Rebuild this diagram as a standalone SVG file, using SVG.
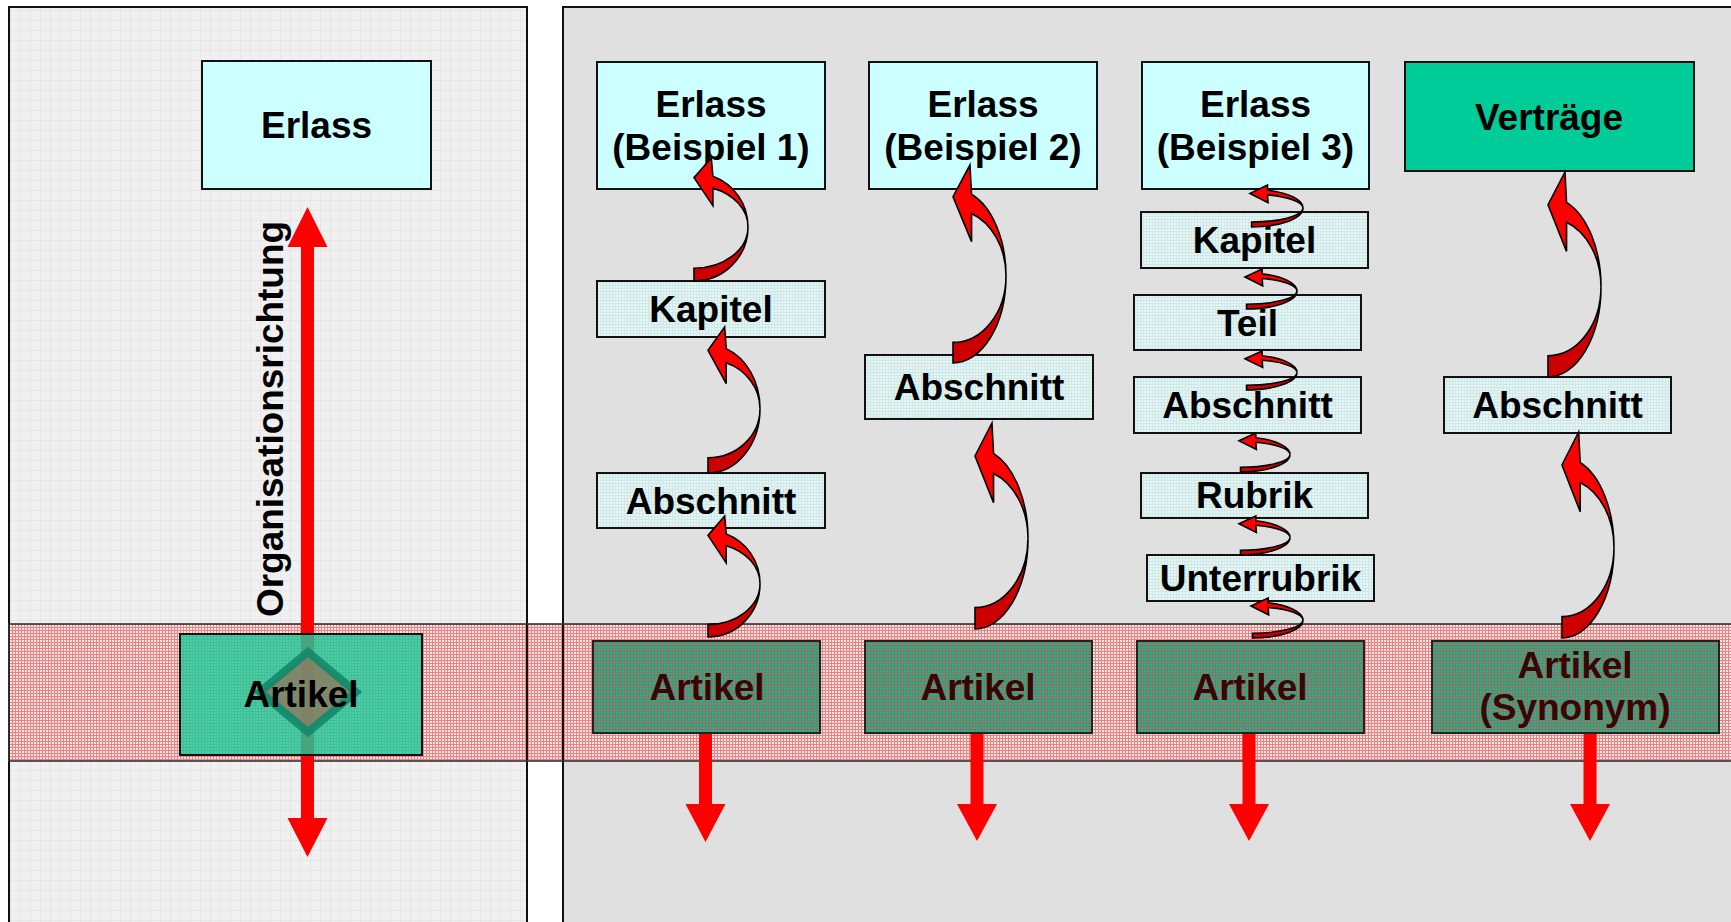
<svg xmlns="http://www.w3.org/2000/svg" xmlns:xlink="http://www.w3.org/1999/xlink" width="1731" height="922" viewBox="0 0 1731 922">
<style>
.t{font-family:"Liberation Sans",Arial,sans-serif;font-weight:bold;font-size:37px;text-anchor:middle;fill:#000}
.ta{font-family:"Liberation Sans",Arial,sans-serif;font-weight:bold;font-size:37px;text-anchor:middle;fill:#3a0505}
.bx{stroke:#111;stroke-width:2}
.er{fill:#ccffff}
.mid{fill:url(#pMid)}
.art{fill:url(#pArt);stroke:#222;stroke-width:2}
.cf{fill:#ff0000;stroke:#000;stroke-width:1.6;vector-effect:non-scaling-stroke;stroke-linejoin:miter}
.cb{fill:#cc0000;stroke:#000;stroke-width:1.6;vector-effect:non-scaling-stroke}
.red{fill:#ff0000}
</style>
<defs>
<pattern id="pLeft" width="10" height="10" patternUnits="userSpaceOnUse"><rect width="10" height="10" fill="#f0f0f0"/><rect width="10" height="1" fill="#e6e6e6"/><rect width="1" height="10" fill="#e6e6e6"/></pattern>
<pattern id="pBand" width="3" height="3" patternUnits="userSpaceOnUse"><rect width="3" height="3" fill="#fce6e6"/><rect width="3" height="1" fill="#ef8080"/><rect width="1" height="3" fill="#ef8080"/></pattern>
<pattern id="pMid" width="3" height="3" patternUnits="userSpaceOnUse"><rect width="3" height="3" fill="#e2f7f7"/><rect width="3" height="1" fill="#d2e6e6"/><rect width="1" height="3" fill="#d2e6e6"/></pattern>
<pattern id="pArt" width="3" height="3" patternUnits="userSpaceOnUse"><rect width="3" height="3" fill="#1db489"/><rect width="3" height="1" fill="#c85050" opacity="0.6"/><rect width="1" height="3" fill="#c85050" opacity="0.6"/></pattern>
<path id="cfT" class="cf" d="M32,0 L0,16 L35,38.7 L35,24.5 A100,33.6 0 0 1 100,56 A100,44 0 0 0 35,14.8 Z"/>
<path id="cbT" class="cb" d="M100,56 A100,44 0 0 1 0,100 L0,89.6 A100,33.6 0 0 0 100,56 Z"/>
<path id="cfS" class="cf" d="M0,20 L33,0 L33,12.2 A97,45 0 0 1 100,55 A97,33 0 0 0 33,23.6 L34,42 Z"/>
<path id="cbS" class="cb" d="M100,55 A97,45 0 0 1 3,100 L3,88 A97,33 0 0 0 100,55 Z"/>
</defs>

<g id="background">
<rect x="0" y="0" width="1731" height="922" fill="#ffffff"/>
<rect x="9" y="7" width="518" height="930" fill="url(#pLeft)"/>
<rect x="563" y="7" width="1180" height="930" fill="#e0e0e0"/>
<rect x="9" y="624" width="1740" height="137" fill="url(#pBand)"/>
<rect x="9" y="7" width="518" height="930" fill="none" stroke="#111" stroke-width="2"/>
<rect x="563" y="7" width="1180" height="930" fill="none" stroke="#111" stroke-width="2"/>
<rect x="9" y="624" width="1740" height="137" fill="none" stroke="#333" stroke-width="1.6"/>
</g>

<g id="connectors">
<path class="red" d="M301,247 L314,247 L314,818 L301,818 Z"/>
<path class="red" d="M307.5,207 L327.5,247 L287.5,247 Z"/>
<path class="red" d="M307.5,857 L327.5,818 L287.5,818 Z"/>
<path class="red" d="M699,733 L712,733 L712,804 L699,804 Z M685.5,804 L725.5,804 L705.5,842 Z"/>
<path class="red" d="M970.5,733 L983.5,733 L983.5,804 L970.5,804 Z M957,804 L997,804 L977,841 Z"/>
<path class="red" d="M1242.5,733 L1255.5,733 L1255.5,804 L1242.5,804 Z M1229,804 L1269,804 L1249,841 Z"/>
<path class="red" d="M1583.5,733 L1596.5,733 L1596.5,804 L1583.5,804 Z M1570,804 L1610,804 L1590,841 Z"/>
</g>

<g id="n-erlass-left"><rect class="bx er" x="202" y="61" width="229" height="128"/><text class="t" x="316.5" y="138">Erlass</text></g>
<g id="label-orientation"><text class="t" transform="translate(283,419) rotate(-90)" x="0" y="0" textLength="396" lengthAdjust="spacingAndGlyphs">Organisationsrichtung</text></g>
<g id="n-artikel-left">
<rect x="180" y="634" width="242" height="121" fill="#1ec99a" fill-opacity="0.82" stroke="#111" stroke-width="2"/>
<path d="M308,652 L356,692 L308,732 L260,692 Z" fill="#8a7c62" fill-opacity="0.85" stroke="#10896a" stroke-width="8" stroke-opacity="0.9"/>
<text class="t" x="301" y="707">Artikel</text>
</g>

<g id="n-erlass1"><rect class="bx er" x="597" y="62" width="228" height="127"/><text class="t" x="711" y="117">Erlass</text><text class="t" x="711" y="160">(Beispiel 1)</text></g>
<g id="n-kapitel1"><rect class="bx mid" x="597" y="281" width="228" height="56"/><text class="t" x="711" y="322">Kapitel</text></g>
<g id="n-abschnitt1"><rect class="bx mid" x="597" y="473" width="228" height="55"/><text class="t" x="711" y="514">Abschnitt</text></g>
<g id="n-artikel1"><rect class="art" x="593" y="641" width="227" height="92"/><text class="ta" x="707" y="700">Artikel</text></g>

<g id="n-erlass2"><rect class="bx er" x="869" y="62" width="228" height="127"/><text class="t" x="983" y="117">Erlass</text><text class="t" x="983" y="160">(Beispiel 2)</text></g>
<g id="n-abschnitt2"><rect class="bx mid" x="865" y="355" width="228" height="64"/><text class="t" x="979" y="400">Abschnitt</text></g>
<g id="n-artikel2"><rect class="art" x="865" y="641" width="227" height="92"/><text class="ta" x="978" y="700">Artikel</text></g>

<g id="n-erlass3"><rect class="bx er" x="1142" y="62" width="227" height="127"/><text class="t" x="1255.5" y="117">Erlass</text><text class="t" x="1255.5" y="160">(Beispiel 3)</text></g>
<g id="n-kapitel3"><rect class="bx mid" x="1141" y="212" width="227" height="56"/><text class="t" x="1254.5" y="253">Kapitel</text></g>
<g id="n-teil3"><rect class="bx mid" x="1134" y="295" width="227" height="55"/><text class="t" x="1247.5" y="336">Teil</text></g>
<g id="n-abschnitt3"><rect class="bx mid" x="1134" y="377" width="227" height="56"/><text class="t" x="1247.5" y="418">Abschnitt</text></g>
<g id="n-rubrik3"><rect class="bx mid" x="1141" y="473" width="227" height="45"/><text class="t" x="1254.5" y="508">Rubrik</text></g>
<g id="n-unterrubrik3"><rect class="bx mid" x="1147" y="555" width="227" height="46"/><text class="t" x="1260.5" y="591">Unterrubrik</text></g>
<g id="n-artikel3"><rect class="art" x="1137" y="641" width="227" height="92"/><text class="ta" x="1250" y="700">Artikel</text></g>

<g id="n-vertraege"><rect class="bx" fill="#00cc99" x="1405" y="62" width="289" height="109"/><text class="t" x="1549" y="130">Verträge</text></g>
<g id="n-abschnitt4"><rect class="bx mid" x="1444" y="377" width="227" height="56"/><text class="t" x="1557.5" y="418">Abschnitt</text></g>
<g id="n-artikel4"><rect class="art" x="1432" y="641" width="287" height="92"/><text class="ta" x="1575" y="678">Artikel</text><text class="ta" x="1575" y="720">(Synonym)</text></g>

<g id="curved-connectors">
<g transform="translate(694,158) scale(0.54,1.23)"><use xlink:href="#cbT"/><use xlink:href="#cfT"/></g>
<g transform="translate(708,327) scale(0.52,1.46)"><use xlink:href="#cbT"/><use xlink:href="#cfT"/></g>
<g transform="translate(708,516) scale(0.52,1.21)"><use xlink:href="#cbT"/><use xlink:href="#cfT"/></g>
<g transform="translate(953,165) scale(0.53,1.98)"><use xlink:href="#cbT"/><use xlink:href="#cfT"/></g>
<g transform="translate(975,423) scale(0.53,2.06)"><use xlink:href="#cbT"/><use xlink:href="#cfT"/></g>
<g transform="translate(1548,172) scale(0.53,2.05)"><use xlink:href="#cbT"/><use xlink:href="#cfT"/></g>
<g transform="translate(1562,432) scale(0.52,2.06)"><use xlink:href="#cbT"/><use xlink:href="#cfT"/></g>
<g transform="translate(1250,185) scale(0.53,0.42)"><use xlink:href="#cbS"/><use xlink:href="#cfS"/></g>
<g transform="translate(1245,269) scale(0.52,0.40)"><use xlink:href="#cbS"/><use xlink:href="#cfS"/></g>
<g transform="translate(1245,351) scale(0.52,0.39)"><use xlink:href="#cbS"/><use xlink:href="#cfS"/></g>
<g transform="translate(1239,433) scale(0.51,0.39)"><use xlink:href="#cbS"/><use xlink:href="#cfS"/></g>
<g transform="translate(1239,516) scale(0.51,0.39)"><use xlink:href="#cbS"/><use xlink:href="#cfS"/></g>
<g transform="translate(1251,598) scale(0.52,0.40)"><use xlink:href="#cbS"/><use xlink:href="#cfS"/></g>
</g>
</svg>
